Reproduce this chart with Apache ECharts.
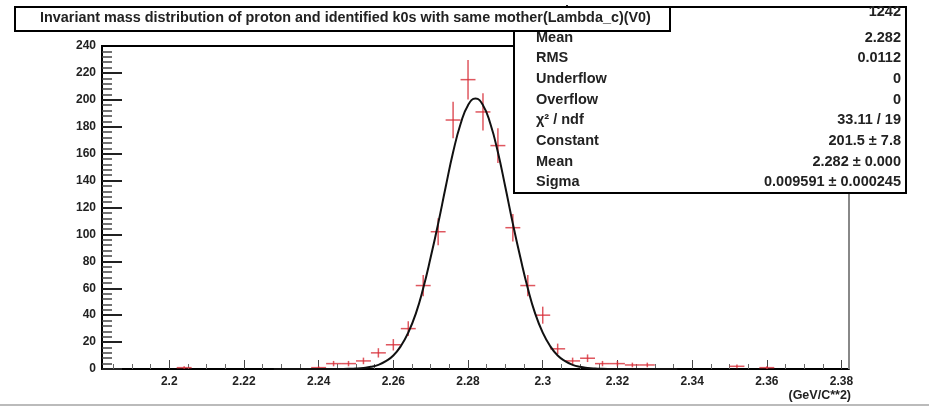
<!DOCTYPE html>
<html>
<head>
<meta charset="utf-8">
<script src="https://cdn.jsdelivr.net/npm/echarts@6/dist/echarts.min.js"></script>
<style>
  html, body { margin: 0; padding: 0; background: #fff; }
  #chart { width: 929px; height: 409px; }
</style>
</head>
<body>
<div id="chart"></div>
<script>
// histogram bins (width 0.004), only the non empty ones
const binCenters = [2.204, 2.240, 2.244, 2.248, 2.252, 2.256, 2.260, 2.264, 2.268, 2.272, 2.276, 2.280, 2.284,
  2.288, 2.292, 2.296, 2.300, 2.304, 2.308, 2.312, 2.316, 2.320, 2.324, 2.328, 2.352, 2.360]
const counts = [1, 1, 4, 4, 6, 12, 18, 30, 62, 102, 185, 215, 191,
  166, 105, 62, 40, 15, 6, 8, 4, 4, 3, 3, 2, 1]
const binWidth = 0.004

// gaus fit curve
const fitX = [2.228, 2.230, 2.232, 2.234, 2.236, 2.238, 2.240, 2.242, 2.244, 2.246, 2.248, 2.250, 2.252, 2.254,
  2.256, 2.258, 2.260, 2.262, 2.264, 2.266, 2.268, 2.270, 2.272, 2.274, 2.276, 2.278, 2.280, 2.282,
  2.284, 2.286, 2.288, 2.290, 2.292, 2.294, 2.296, 2.298, 2.300, 2.302, 2.304, 2.306, 2.308, 2.310,
  2.312, 2.314, 2.316, 2.318, 2.320, 2.322, 2.324, 2.326, 2.328, 2.330, 2.332, 2.334, 2.336]
const fitY = [0, 0, 0, 0, 0, 0, 0, 0.01, 0.03, 0.07, 0.16, 0.37, 0.8, 1.6,
  3.1, 5.8, 10, 17, 27, 41, 60, 83, 108, 135, 161, 182, 196, 201,
  196, 182, 161, 135, 108, 83, 60, 41, 27, 17, 10, 5.8, 3.1, 1.6,
  0.8, 0.37, 0.16, 0.07, 0.03, 0.01, 0, 0, 0, 0, 0, 0, 0]

// axis ticks
const xMajorTicks = [2.2, 2.22, 2.24, 2.26, 2.28, 2.3, 2.32, 2.34, 2.36, 2.38]
const xMinorTicks = [2.185, 2.19, 2.195, 2.205, 2.21, 2.215, 2.225, 2.23, 2.235, 2.245, 2.25, 2.255,
  2.265, 2.27, 2.275, 2.285, 2.29, 2.295, 2.305, 2.31, 2.315, 2.325, 2.33, 2.335,
  2.345, 2.35, 2.355, 2.365, 2.37, 2.375]

// stats box
const statsLabels = ['Entries', 'Mean', 'RMS', 'Underflow', 'Overflow', 'χ² / ndf', 'Constant', 'Mean', 'Sigma']
const statsValues = ['1242', '2.282', '0.0112', '0', '0', '33.11 / 19', '201.5 ± 7.8', '2.282 ± 0.000', '0.009591 ± 0.000245']

const titleText = 'Invariant mass distribution of proton and identified k0s with same mother(Lambda_c)(V0)'

const font = 'Liberation Sans, Arial, sans-serif'
const myEchart = echarts.init(document.getElementById('chart'))

const histData = binCenters.map((x, i) => [x, counts[i]])
const fitData = fitX.map((x, i) => [x, fitY[i]])

// stats text rows (first one sits under the title box)
const statsGraphics = []
statsLabels.forEach((lab, i) => {
  const y = i === 0 ? 12 : 37.5 + (i - 1) * 20.7
  statsGraphics.push({
    type: 'text', z: 102,
    style: { x: 536, y: y, text: lab, font: 'bold 14.5px ' + font, fill: '#222',
      textAlign: 'left', textVerticalAlign: 'middle' }
  })
  statsGraphics.push({
    type: 'text', z: 102,
    style: { x: 901, y: y, text: statsValues[i], font: 'bold 14.5px ' + font, fill: '#222',
      textAlign: 'right', textVerticalAlign: 'middle' }
  })
})

const option = {
  backgroundColor: '#fff',
  animation: false,
  grid: { left: 102, top: 46, right: 80, bottom: 40 },
  xAxis: [{
    type: 'value',
    min: 2.182,
    max: 2.382,
    axisLine: { show: true, onZero: false, lineStyle: { color: '#000', width: 2 } },
    axisTick: { show: true, inside: true, length: 9, customValues: xMajorTicks, lineStyle: { color: '#444', width: 1 } },
    axisLabel: {
      customValues: xMajorTicks,
      margin: 7,
      color: '#222',
      fontFamily: font,
      fontWeight: 'bold',
      fontSize: 12,
      formatter: v => String(+v.toFixed(2))
    },
    splitLine: { show: false }
  }, {
    type: 'value',
    position: 'bottom',
    min: 2.182,
    max: 2.382,
    axisLine: { show: false },
    axisTick: { show: true, inside: true, length: 5, customValues: xMinorTicks, lineStyle: { color: '#666', width: 1 } },
    axisLabel: { show: false },
    splitLine: { show: false }
  }],
  yAxis: {
    type: 'value',
    min: 0,
    max: 240,
    interval: 20,
    axisLine: { show: true, lineStyle: { color: '#000', width: 2 } },
    axisTick: { show: true, inside: true, length: 20, lineStyle: { color: '#222', width: 2 } },
    minorTick: { show: true, splitNumber: 5, length: 10, lineStyle: { color: '#444', width: 1.5 } },
    axisLabel: { margin: 6, color: '#222', fontFamily: font, fontWeight: 'bold', fontSize: 12 },
    splitLine: { show: false }
  },
  series: [{
    type: 'custom',
    z: 2,
    data: histData,
    renderItem: (params, api) => {
      const x = api.value(0)
      const y = api.value(1)
      const err = Math.sqrt(y)
      const c = api.coord([x, y])
      const lo = api.coord([x, Math.max(y - err, 0)])
      const hi = api.coord([x, y + err])
      const halfW = api.size([binWidth, 0])[0] / 2
      const style = { stroke: 'rgba(215,45,55,0.8)', lineWidth: 1.5 }
      return {
        type: 'group',
        children: [
          { type: 'line', shape: { x1: c[0] - halfW, y1: c[1], x2: c[0] + halfW, y2: c[1] }, style: style },
          { type: 'line', shape: { x1: c[0], y1: lo[1], x2: c[0], y2: hi[1] }, style: style }
        ]
      }
    }
  }, {
    type: 'line',
    z: 3,
    data: fitData,
    smooth: true,
    symbol: 'none',
    lineStyle: { color: '#111', width: 2 }
  }],
  graphic: [
    // frame top and right edge
    { type: 'line', z: 50, shape: { x1: 101, y1: 46, x2: 515, y2: 46 }, style: { stroke: '#000', lineWidth: 2 } },
    { type: 'line', z: 50, shape: { x1: 849, y1: 193, x2: 849, y2: 369 }, style: { stroke: '#888', lineWidth: 2 } },
    // stats box
    { type: 'rect', z: 100, shape: { x: 514, y: 7, width: 392, height: 186 }, style: { fill: '#fff', stroke: '#000', lineWidth: 2 } },
    ...statsGraphics,
    // title box on top
    { type: 'rect', z: 110, shape: { x: 15, y: 7, width: 655, height: 24 }, style: { fill: '#fff', stroke: '#000', lineWidth: 2 } },
    { type: 'text', z: 111, style: { x: 40, y: 18, text: titleText, font: 'bold 14.4px ' + font, fill: '#222',
      textAlign: 'left', textVerticalAlign: 'middle' } },
    // axis title
    { type: 'text', z: 50, style: { x: 851, y: 396, text: '(GeV/C**2)', font: 'bold 12.5px ' + font, fill: '#222',
      textAlign: 'right', textVerticalAlign: 'middle' } },
    // bottom border of the canvas
    { type: 'line', z: 50, shape: { x1: 0, y1: 405, x2: 929, y2: 405 }, style: { stroke: '#bbb', lineWidth: 2 } }
  ]
}

myEchart.setOption(option)
</script>
</body>
</html>
